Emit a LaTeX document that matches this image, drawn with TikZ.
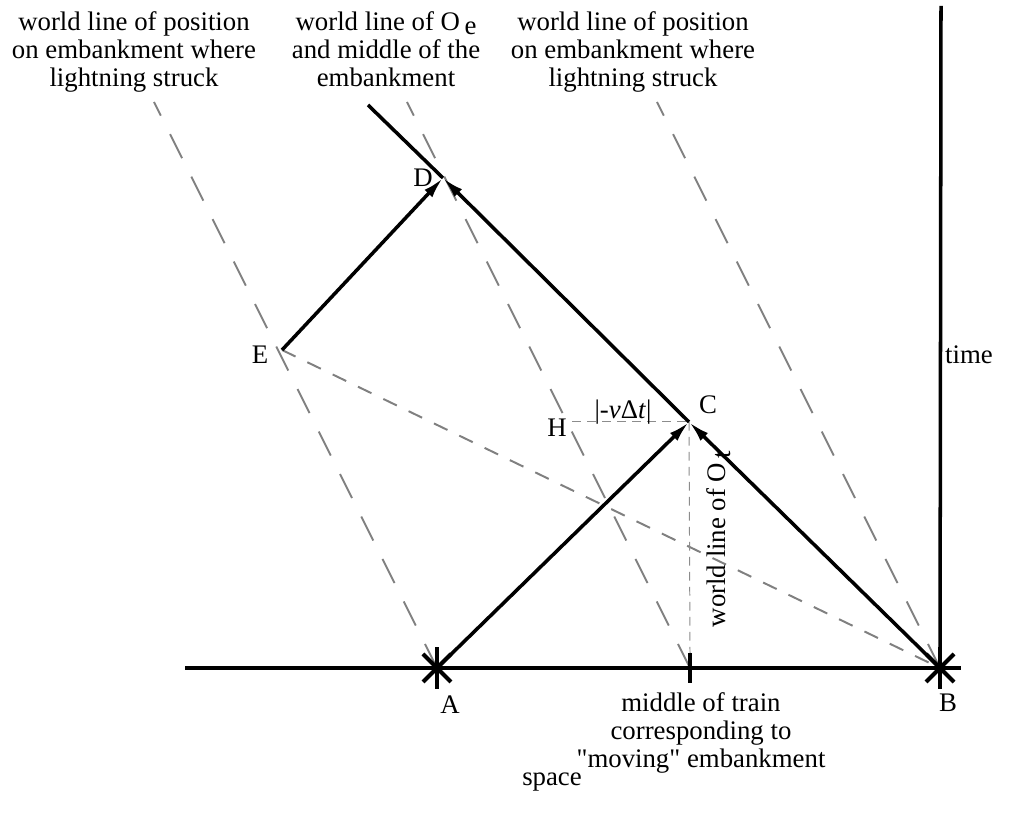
\documentclass[tikz,border=0pt]{standalone}
\usepackage{fontspec}
\setmainfont{Liberation Serif}[Ligatures=TeXOff]
\usetikzlibrary{arrows.meta}
\tikzset{
  lab/.style={font=\fontsize{12.2}{12.9}\selectfont,align=center,inner sep=0pt},
  wline/.style={line width=1.6pt,draw=black},
  warrow/.style={wline,-{Latex[length=3.4mm,width=1.7mm]}},
  worldline/.style={draw=black!50,line width=0.9pt,dash pattern=on 4.3mm off 3.3mm},
  signal/.style={draw=black!50,line width=0.9pt,dash pattern=on 2.4mm off 2.1mm},
  guide/.style={draw=black!45,line width=0.45pt,dash pattern=on 1.4mm off 1mm},
  strike/.pic={
    \draw[line width=2.2pt] (-21,0) -- (21,0) (0,-21) -- (0,21);
    \draw[line width=1.8pt] (-14,-14) -- (14,14) (-14,14) -- (14,-14);
  }
}
\begin{document}
\begin{tikzpicture}[x=0.16mm,y=0.16mm]
  \useasboundingbox (0,0) rectangle (1013,819);
  \coordinate (A) at (437,151);
  \coordinate (B) at (940,151);
  \coordinate (C) at (689,397);
  \coordinate (D) at (443,641);
  \coordinate (E) at (282,469);
  \coordinate (M) at (690,151);
  \coordinate (Dtop) at (368,714);
  \coordinate (xl) at (185,151);
  \coordinate (xr) at (957,151);
  \coordinate (tt) at (941,813);
  \coordinate (Ltop) at (154,717);
  \coordinate (Mtop) at (407,717);
  \coordinate (Rtop) at (657,717);
  \coordinate (Hd) at (572,397);
  \coordinate (Cfoot) at (690,166);
  \coordinate (tickb) at (690,136);

  \draw[worldline] (A) -- (Ltop);
  \draw[worldline] (M) -- (Mtop);
  \draw[worldline] (B) -- (Rtop);
  \draw[signal] (E) -- (B);
  \draw[guide] (Hd) -- (C);
  \draw[guide] (C) -- (Cfoot);

  \draw[wline] (xl) -- (xr);
  \draw[wline] (B) -- (tt);
  \draw[wline] (tickb) -- (Cfoot);
  \draw[warrow] (A) -- (C);
  \draw[warrow] (B) -- (C);
  \draw[warrow] (C) -- (D);
  \draw[wline] (D) -- (Dtop);
  \draw[warrow] (E) -- (D);
  \pic at (A) {strike};
  \pic at (B) {strike};

  \node[lab] (lA) at (450,114) {A};
  \node[lab] (lB) at (948,116) {B};
  \node[lab] (lC) at (708,414) {C};
  \node[lab] (lD) at (423,641) {D};
  \node[lab] (lE) at (260,464) {E};
  \node[lab] (lH) at (557,391) {H};
  \node[lab] (lvt) at (623,407) {|-\textit{v}Δ\textit{t}|};
  \node[lab] (time) at (969,464) {time};
  \node[lab] (space) at (552,37) {space};
  \node[lab,rotate=90] (otl) at (719,280) {world line of O\,\raisebox{-0.4ex}{t}};
  \node[lab,anchor=north] (wleft) at (134,808) {world line of position\\on embankment where\\lightning struck};
  \node[lab,anchor=north] (wmid) at (386,808) {world line of O\,\raisebox{-0.35ex}{e}\\and middle of the\\embankment};
  \node[lab,anchor=north] (wright) at (633,808) {world line of position\\on embankment where\\lightning struck};
  \node[lab,anchor=north] (train) at (701,127) {middle of train\\corresponding to\\"moving" embankment};
\end{tikzpicture}
\end{document}
